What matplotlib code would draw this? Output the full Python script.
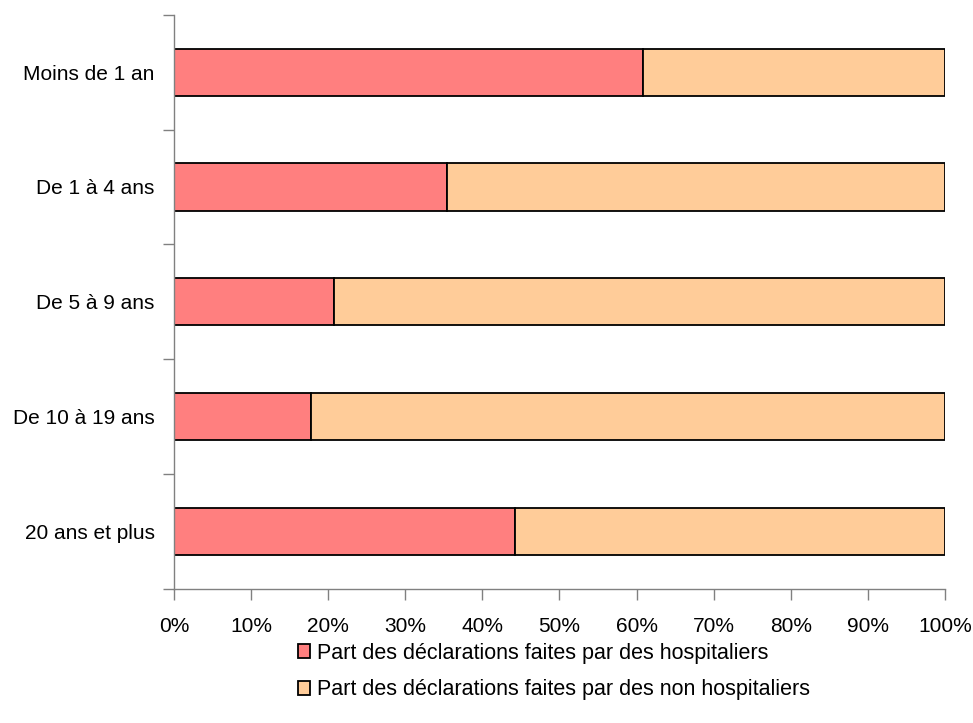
import numpy as np
import matplotlib.pyplot as plt
from matplotlib.ticker import FixedLocator, PercentFormatter

plt.rcParams['font.family'] = ['Liberation Sans', 'DejaVu Sans']

# Share of declarations by age group (percent)
age_groups = ['Moins de 1 an', 'De 1 à 4 ans', 'De 5 à 9 ans', 'De 10 à 19 ans', '20 ans et plus']
hospital_pct = [60.8, 35.4, 20.7, 17.8, 44.2]
other_pct = [100 - v for v in hospital_pct]
series_labels = ['Part des déclarations faites par des hospitaliers',
                 'Part des déclarations faites par des non hospitaliers']

fig = plt.figure(figsize=(9.73, 7.23), dpi=100)
ax = fig.add_axes([0.1788, 0.1853, 0.7924, 0.7944])

# top category first
y = np.arange(len(age_groups))[::-1]
bar_h = 0.41
ax.barh(y, hospital_pct, height=bar_h, color='#FF7F7F', edgecolor='black', linewidth=1.3,
        label=series_labels[0])
ax.barh(y, other_pct, left=hospital_pct, height=bar_h, color='#FFCC99', edgecolor='black',
        linewidth=1.3, label=series_labels[1])

ax.set_xlim(0, 100)
ax.set_ylim(-0.5, len(age_groups) - 0.5)
ax.set_xticks(np.arange(0, 101, 10))
ax.xaxis.set_major_formatter(PercentFormatter(decimals=0))

# category labels centred, tick marks on the boundaries
ax.set_yticks(y)
ax.set_yticklabels(age_groups)
ax.yaxis.set_minor_locator(FixedLocator(np.arange(-0.5, len(age_groups), 1)))
ax.tick_params(axis='y', which='major', length=0, pad=14, labelsize=15)
ax.tick_params(axis='y', which='minor', length=8, color='#808080', width=1)
ax.tick_params(axis='x', length=8, color='#808080', width=1, pad=12, labelsize=15)

for side in ['top', 'right']:
    ax.spines[side].set_visible(False)
for side in ['left', 'bottom']:
    ax.spines[side].set_color('#808080')
    ax.spines[side].set_linewidth(1)

fig.legend(loc='upper left', bbox_to_anchor=(0.306, 0.111), frameon=False,
           fontsize=15.5, handlelength=0.58, handleheight=0.58, handletextpad=0.3,
           labelspacing=0.73, borderaxespad=0, borderpad=0)

fig.savefig('out.png', dpi=100)
